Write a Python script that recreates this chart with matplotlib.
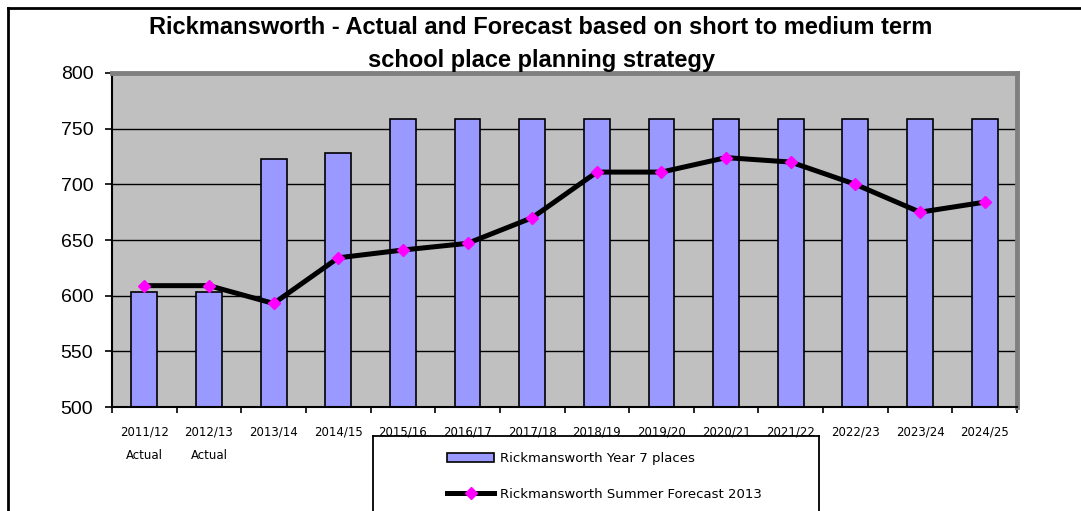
import matplotlib.pyplot as plt
from matplotlib.lines import Line2D
import numpy as np

years = ["2011/12", "2012/13", "2013/14", "2014/15", "2015/16", "2016/17", "2017/18",
         "2018/19", "2019/20", "2020/21", "2021/22", "2022/23", "2023/24", "2024/25"]
tick_labels = ["2011/12\nActual", "2012/13\nActual"] + years[2:]
places = [603, 603, 723, 728, 759, 759, 759, 759, 759, 759, 759, 759, 759, 759]
forecast = [609, 609, 593, 634, 641, 647, 670, 711, 711, 724, 720, 700, 675, 684]

W, H = 1081, 511
fig = plt.figure(figsize=(W / 100, H / 100), dpi=100)
ax = fig.add_axes([112 / W, 1 - 407 / H, (1017 - 112) / W, (407 - 73) / H])

x = np.arange(len(years))
ax.set_facecolor("#C0C0C0")
bars = ax.bar(x, places, width=0.4, color="#9999FF", edgecolor="black", linewidth=1.2,
              label="Rickmansworth Year 7 places", zorder=2)
line, = ax.plot(x, forecast, color="black", linewidth=3.6, marker="D", markersize=6.5,
                markerfacecolor="#FF00FF", markeredgecolor="#FF00FF",
                label="Rickmansworth Summer Forecast 2013", zorder=3)

ax.set_ylim(500, 800)
ax.set_xlim(-0.5, len(years) - 0.5)
ax.set_yticks(range(500, 801, 50))
ax.yaxis.grid(True, color="black", linewidth=1)
ax.set_axisbelow(True)

ax.set_xticks(x)
ax.set_xticklabels(tick_labels, fontsize=8.5, family="DejaVu Sans", linespacing=2.1, va="top")
ax.set_xticks(np.arange(-0.5, len(years)), minor=True)
ax.tick_params(axis="x", which="major", length=0, pad=13)
ax.tick_params(axis="x", which="minor", length=4, width=1.2, direction="out")
ax.tick_params(axis="y", length=5, width=1.2, pad=8.5, labelsize=14)
for lab in ax.get_yticklabels():
    lab.set_family("Liberation Sans")

for side in ("top", "right"):
    ax.spines[side].set_color("#808080")
    ax.spines[side].set_linewidth(3.5)
for side in ("left", "bottom"):
    ax.spines[side].set_color("black")
    ax.spines[side].set_linewidth(1.5)

# title
fig.text(541 / W, 1 - 28 / H, "Rickmansworth - Actual and Forecast based on short to medium term",
         ha="center", va="center", fontsize=17, fontweight="bold", family="Liberation Sans")
fig.text(541 / W, 1 - 60 / H, "school place planning strategy",
         ha="center", va="center", fontsize=17, fontweight="bold", family="Liberation Sans")

# legend, box runs off the bottom of the figure
leg = fig.legend([bars, line], [bars.get_label(), line.get_label()],
                 loc="upper left", bbox_to_anchor=(435 / W, 1 - 440 / H), frameon=False,
                 handlelength=3.6, handletextpad=0.45, labelspacing=1.75,
                 prop={"family": "DejaVu Sans", "size": 9.5})
for xs, ys in (((373, 373), (436, 520)), ((373, 819), (436, 436)), ((819, 819), (436, 520))):
    fig.add_artist(Line2D([v / W for v in xs], [1 - v / H for v in ys], color="black", linewidth=1.3))

# outer frame
fig.add_artist(Line2D([8 / W, 1], [1 - 8 / H, 1 - 8 / H], color="black", linewidth=2))
fig.add_artist(Line2D([8 / W, 8 / W], [1 - 8 / H, 0], color="black", linewidth=2))

fig.savefig("out.png", dpi=100)
